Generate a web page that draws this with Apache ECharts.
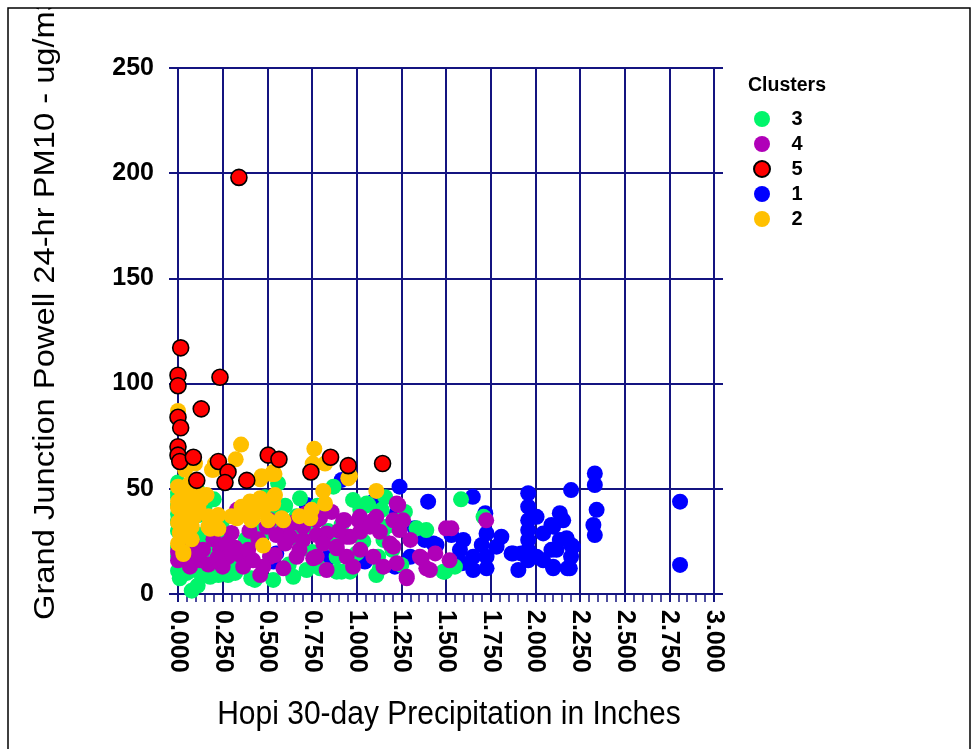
<!DOCTYPE html>
<html>
<head>
<meta charset="utf-8">
<script src="https://cdn.jsdelivr.net/npm/echarts@6/dist/echarts.min.js"></script>
<style>html,body{margin:0;padding:0;background:#fff;}#c{width:972px;height:749px;}</style>
</head>
<body>
<div id="c"></div>
<script>
// ---- data ----
const xTickLabels = ['0.000','0.250','0.500','0.750','1.000','1.250','1.500','1.750','2.000','2.250','2.500','2.750','3.000'];
const yTickLabels = ['0','50','100','150','200','250'];
const clusterNames = ['3','4','5','1','2'];

const cluster5 = [[0.015,117],[0.00,104],[0.00,99],[0.235,103],[0.13,88],[0.00,84],[0.015,79],[0.00,70],[0.00,66],[0.01,63],[0.086,65],[0.226,63],[0.28,58],[0.385,54],[0.105,54],[0.263,53],[0.505,66],[0.565,64],[0.744,58],[0.854,65],[0.953,61],[1.145,62],[0.341,198]];

const cluster2 = [[0.0,87],[0.353,71],[0.323,64],[0.763,69],[0.754,62],[0.823,62],[0.207,62],[0.198,59],[0.095,62],[0.04,59],[0.468,56],[0.533,58],[0.963,56],[0.19,59],[0.46,54.5],[0.525,57],[0.0,51],[0.03,48],[0.105,49],[0.16,47],[0.0,44],[0.058,45],[0.133,45],[0.114,41],[0.0,41],[0.04,39],[0.095,37],[0.17,37],[0.225,37.5],[0.30,37],[0.356,41.5],[0.403,44],[0.46,45.5],[0.533,45.5],[0.43,39],[0.505,35],[0.0,34],[0.077,32],[0.17,32],[0.41,35],[0.0,24],[0.03,20],[0.477,23],[0.543,47],[0.813,49],[0.823,43],[1.11,49],[0.533,43],[0.58,36],[0.476,40],[0.42,36],[0.356,40],[0.33,36],[0.226,31],[0.18,31],[0.077,26],[0.03,19],[0.748,40],[0.74,36],[0.953,55],[0.54,57],[0.59,35],[0.68,37],[0.01,29],[0.06,52],[0.02,36]];

const cluster3 = [[0.0,53],[0.0,48],[0.0,34],[0.0,30],[0.0,18],[0.0,11],[0.01,7.5],[0.077,1.6],[0.105,50],[0.114,37.5],[0.086,16],[0.14,9],[0.226,9],[0.28,9],[0.30,14.6],[0.25,35],[0.347,37.5],[0.403,40],[0.477,29],[0.46,26],[0.56,52.6],[0.683,45.5],[0.533,40],[0.55,35],[0.645,28],[0.683,25],[0.41,7.5],[0.533,6.7],[0.645,8.2],[0.72,11.4],[0.795,12.2],[0.916,10.6],[0.963,10.6],[1.11,9],[1.13,12.2],[0.98,44.7],[1.056,43],[1.14,40],[1.167,32],[0.916,33],[0.87,51],[0.664,37],[0.72,31],[0.87,24],[0.888,17.7],[1.12,17.7],[1.037,25],[0.18,21],[0.0,46],[0.0,35],[0.15,27],[0.226,27],[0.095,11.4],[0.18,8.2],[0.43,6.7],[0.356,19.3],[0.468,30.4],[0.487,46],[1.065,42.3],[1.16,46],[1.27,39],[1.335,31.2],[1.39,30.4],[1.15,25.7],[1.093,32.8],[1.25,13.8],[0.888,10.6],[1.0,19.3],[1.494,10.6],[1.584,45],[1.71,36.7],[1.485,10.6],[1.55,13],[0.0,42],[0.0,38],[0.02,26],[0.0,22],[0.03,14],[0.06,30],[0.06,20],[0.12,28],[0.08,46],[0.15,42],[0.2,45],[0.27,29],[0.32,10],[0.38,26],[0.6,42],[0.78,42],[0.84,30],[0.62,14],[0.75,20],[1.02,40],[1.2,21],[0.05,10],[0.11,4]];

const cluster4 = [[0.33,40],[0.30,29],[0.198,26],[0.14,21],[0.067,13],[0.0,16],[0.123,16],[0.235,21],[0.347,18.5],[0.365,13],[0.46,9],[0.515,17.7],[0.515,35],[0.496,32],[0.59,30.4],[0.6,24],[0.664,17.7],[0.72,38.3],[0.70,32],[0.776,35],[0.776,28],[0.832,28.8],[0.776,17.7],[0.832,11.4],[0.925,35],[0.944,27.2],[1.01,35],[1.02,29.6],[1.093,35],[1.13,29.6],[1.186,24],[1.205,35],[1.02,21],[1.093,17.7],[0.944,17.7],[0.888,21.7],[0.477,13],[0.28,17.7],[0.393,21],[0.272,24],[1.233,42.3],[0.71,37.5],[0.795,36],[0.934,35],[1.018,36.7],[1.11,36.7],[1.26,35],[1.24,30.4],[1.3,25.7],[1.44,19.3],[1.5,31.2],[1.364,17],[1.39,12.2],[1.28,8.2],[1.224,14.6],[0.98,13],[0.757,17],[0.59,12.2],[0.543,18.5],[0.627,27.2],[0.70,25.7],[0.813,24],[0.888,22.5],[1.074,32],[0.963,27.2],[1.224,43],[1.205,22.5],[1.28,7.5],[1.354,17.7],[1.41,11.4],[1.53,31.2],[1.52,16],[1.725,35],[0.0,20],[0.04,18],[0.08,24],[0.1,18],[0.17,14],[0.22,17],[0.25,13],[0.32,22],[0.4,30],[0.45,26],[0.42,16],[0.55,28],[0.65,34],[0.86,39],[1.15,13],[0.9,30],[0.68,21]];

const cluster1 = [[1.24,51],[1.40,43.9],[1.65,46.2],[1.72,38.4],[1.233,38.4],[1.325,31.2],[1.38,25.7],[1.447,23.3],[1.53,28],[1.597,25.7],[1.578,21],[1.588,14.6],[1.652,17.7],[1.652,11.4],[1.70,23.3],[1.727,28.8],[1.727,17.7],[1.727,12.2],[1.783,22.5],[1.81,27.2],[1.867,19.3],[1.905,11.4],[1.92,19.3],[1.96,47.9],[1.96,41.5],[1.96,35],[1.96,30.4],[1.96,25.7],[1.96,21],[1.96,16],[2.007,36.7],[2.044,28.8],[2.007,17.7],[2.044,16],[2.1,32],[2.137,38.4],[2.156,35],[2.118,21],[2.1,13],[2.175,26.5],[2.2,23.3],[2.2,17.7],[2.193,12.2],[2.2,49.4],[2.333,57.3],[2.333,51.8],[2.343,40],[2.325,32.8],[2.333,28],[2.81,43.9],[2.81,13.8],[2.09,32.8],[2.21,22.5],[2.18,12.2],[2.1,12.2],[1.876,19.3],[2.09,21],[2.137,25.7],[0.916,54.2],[0.72,42.3],[0.55,19.3],[0.533,15.4],[0.832,17],[1.046,15.4],[1.214,13],[1.224,38.4],[1.10,43],[0.84,17],[1.3,17.7],[1.43,24],[1.093,43.9]];

// ---- chart ----
const FONT = '"Liberation Sans", Arial, sans-serif';
const NAVY = '#141480';
const chart = echarts.init(document.getElementById('c'), null, {renderer:'canvas'});

function sc(name, data, color, z, border) {
  return {
    name: name, type: 'scatter', data: data, symbol: 'circle', symbolSize: 16, z: z,
    itemStyle: border ? {color: color, borderColor: '#000', borderWidth: 1.6, opacity: 1}
                      : {color: color, borderWidth: 0, opacity: 1},
    emphasis: {disabled: true}
  };
}

chart.setOption({
  animation: false,
  backgroundColor: '#fff',
  grid: {left: 178, right: 258, top: 68, bottom: 155, containLabel: false},
  xAxis: {
    type: 'value', min: 0, max: 3, interval: 0.25,
    axisLine: {show: true, onZero: false, lineStyle: {color: NAVY, width: 2}},
    axisTick: {show: true, inside: false, length: 8, lineStyle: {color: NAVY, width: 2}},
    minorTick: {show: true, splitNumber: 5, length: 8, lineStyle: {color: NAVY, width: 1.5}},
    splitLine: {show: true, lineStyle: {color: NAVY, width: 2}},
    axisLabel: {
      rotate: -90, margin: 16, color: '#000', fontFamily: FONT, fontWeight: 'bold', fontSize: 25,
      formatter: function (v) { return xTickLabels[Math.round(v / 0.25)]; }
    }
  },
  yAxis: [{
    type: 'value', min: 0, max: 250, interval: 50, position: 'left',
    axisLine: {show: true, onZero: false, lineStyle: {color: NAVY, width: 2}},
    axisTick: {show: true, inside: false, length: 9, lineStyle: {color: NAVY, width: 2}},
    splitLine: {show: true, lineStyle: {color: NAVY, width: 2}},
    axisLabel: {
      margin: 24, color: '#000', fontFamily: FONT, fontWeight: 'bold', fontSize: 25,
      formatter: function (v) { return yTickLabels[Math.round(v / 50)]; }
    }
  }, {
    type: 'value', min: 0, max: 250, interval: 50, position: 'right',
    axisLine: {show: true, onZero: false, lineStyle: {color: NAVY, width: 2}},
    axisTick: {show: true, inside: false, length: 9, lineStyle: {color: NAVY, width: 2}},
    splitLine: {show: false}, axisLabel: {show: false}
  }],
  legend: {
    data: clusterNames, orient: 'vertical', left: 748, top: 104,
    icon: 'circle', itemWidth: 17, itemHeight: 16, itemGap: 5,
    selectedMode: false,
    textStyle: {color: '#000', fontFamily: FONT, fontWeight: 'bold', fontSize: 20, lineHeight: 16, padding: [0, 0, 0, 16]}
  },
  series: [
    sc('1', cluster1, '#0000ff', 2),
    sc('3', cluster3, '#00f56a', 3),
    sc('4', cluster4, '#b000b8', 4),
    sc('2', cluster2, '#ffc000', 5),
    sc('5', cluster5, '#ff0000', 6, true)
  ],
  graphic: [
    {type: 'text', x: 46, y: 620, rotation: Math.PI / 2, scaleX: 1.09, z: 100,
     style: {text: 'Grand Junction Powell 24-hr PM10 - ug/m3', font: '30px ' + FONT, fill: '#000', textAlign: 'left', textVerticalAlign: 'middle'}},
    {type: 'text', x: 449, y: 715, scaleY: 1.08, z: 100,
     style: {text: 'Hopi 30-day Precipitation in Inches', font: '30px ' + FONT, fill: '#000', textAlign: 'center', textVerticalAlign: 'middle'}},
    {type: 'text', x: 748, y: 86, z: 100,
     style: {text: 'Clusters', font: 'bold 19.5px ' + FONT, fill: '#000', textAlign: 'left', textVerticalAlign: 'middle'}},
    {type: 'rect', z: 101, shape: {x: 0, y: 0, width: 972, height: 8}, style: {fill: '#fff'}},
    {type: 'rect', z: 102, shape: {x: 8, y: 8, width: 962, height: 760}, style: {fill: null, stroke: '#000', lineWidth: 1.5}}
  ]
});
</script>
</body>
</html>
